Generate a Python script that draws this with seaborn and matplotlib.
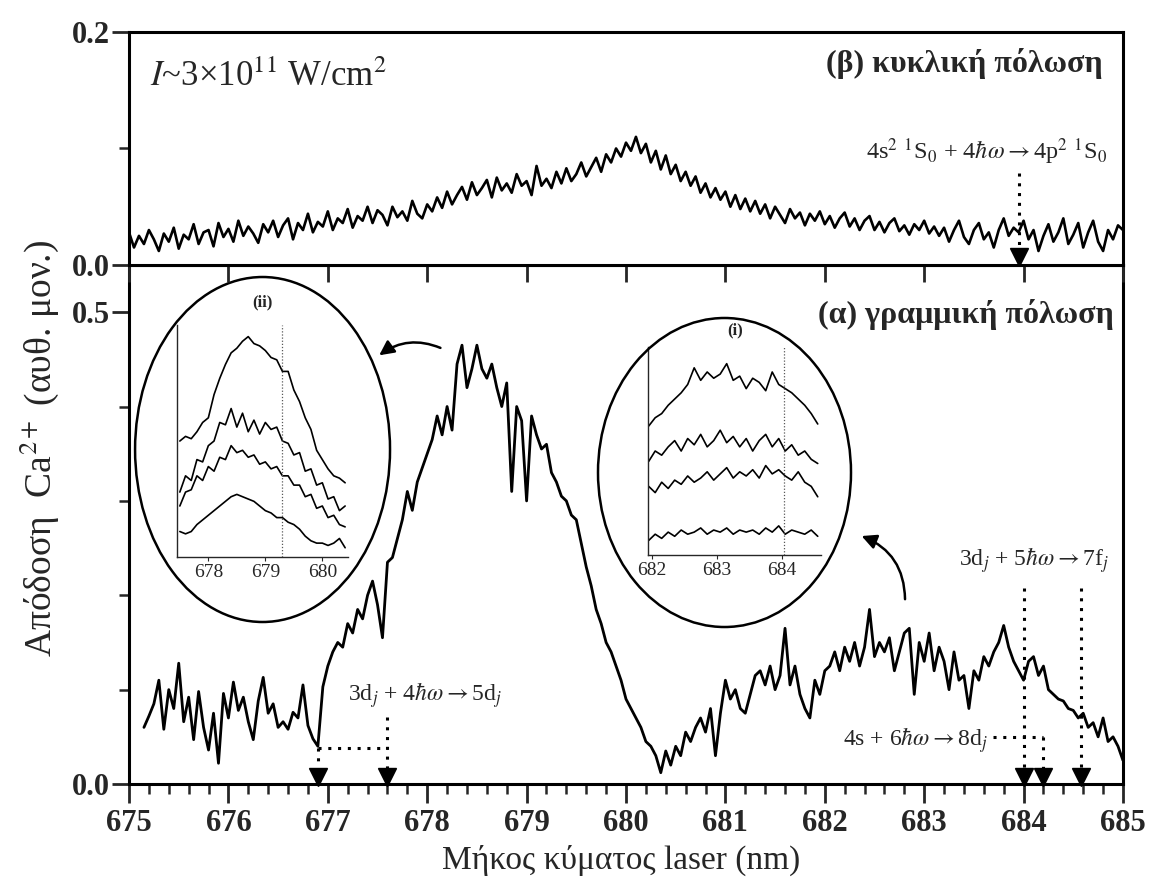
import numpy as np
import pandas as pd
import matplotlib
matplotlib.use("Agg")
import matplotlib.pyplot as plt
import seaborn as sns
from matplotlib.patches import Ellipse, FancyArrowPatch
from matplotlib.ticker import MultipleLocator, FixedLocator

# ---------------- data ----------------
# (beta) circular polarisation, scan 675.00 -> 685.00 nm, step 0.05 nm
circ_start, circ_step = 675.00, 0.05
circ_yield = [
    0.028, 0.015, 0.025, 0.018, 0.030, 0.022, 0.012, 0.027, 0.020, 0.032,
    0.014, 0.026, 0.022, 0.035, 0.018, 0.028, 0.030, 0.016, 0.036, 0.024,
    0.031, 0.020, 0.038, 0.025, 0.033, 0.027, 0.019, 0.035, 0.028, 0.038,
    0.024, 0.034, 0.040, 0.022, 0.036, 0.030, 0.044, 0.028, 0.037, 0.033,
    0.046, 0.030, 0.040, 0.036, 0.048, 0.032, 0.042, 0.038, 0.050, 0.036,
    0.047, 0.043, 0.034, 0.050, 0.041, 0.046, 0.038, 0.055, 0.044, 0.040,
    0.052, 0.046, 0.058, 0.049, 0.063, 0.052, 0.060, 0.067, 0.056, 0.071,
    0.060, 0.066, 0.073, 0.058, 0.075, 0.064, 0.070, 0.062, 0.078, 0.068,
    0.072, 0.060, 0.085, 0.068, 0.074, 0.066, 0.080, 0.070, 0.083, 0.072,
    0.078, 0.088, 0.076, 0.084, 0.092, 0.080, 0.095, 0.088, 0.100, 0.093,
    0.105, 0.098, 0.110, 0.096, 0.104, 0.088, 0.098, 0.082, 0.094, 0.078,
    0.086, 0.072, 0.080, 0.068, 0.076, 0.062, 0.070, 0.058, 0.066, 0.056,
    0.063, 0.050, 0.060, 0.048, 0.057, 0.046, 0.055, 0.044, 0.052, 0.040,
    0.050, 0.043, 0.036, 0.048, 0.040, 0.045, 0.034, 0.044, 0.038, 0.046,
    0.035, 0.042, 0.032, 0.040, 0.045, 0.033, 0.040, 0.030, 0.038, 0.042,
    0.030, 0.037, 0.028, 0.036, 0.040, 0.029, 0.034, 0.026, 0.035, 0.030,
    0.038, 0.027, 0.033, 0.025, 0.032, 0.020, 0.030, 0.038, 0.024, 0.018,
    0.030, 0.036, 0.022, 0.028, 0.015, 0.030, 0.040, 0.025, 0.032, 0.028,
    0.038, 0.022, 0.030, 0.012, 0.025, 0.035, 0.020, 0.028, 0.040, 0.018,
    0.026, 0.036, 0.015, 0.028, 0.038, 0.020, 0.012, 0.030, 0.022, 0.034,
    0.030,
]

# (alpha) linear polarisation, scan 675.15 -> 685.00 nm, step 0.05 nm
lin_start, lin_step = 675.15, 0.05
lin_yield = [
    0.060, 0.072, 0.085, 0.110, 0.058, 0.100, 0.080, 0.128, 0.066, 0.092,
    0.047, 0.098, 0.060, 0.036, 0.075, 0.022, 0.096, 0.070, 0.108, 0.078,
    0.092, 0.066, 0.047, 0.088, 0.113, 0.075, 0.085, 0.060, 0.066, 0.058,
    0.076, 0.070, 0.105, 0.062, 0.048, 0.040, 0.103, 0.125, 0.140, 0.150,
    0.145, 0.170, 0.160, 0.185, 0.175, 0.200, 0.215, 0.190, 0.155, 0.235,
    0.240, 0.260, 0.280, 0.310, 0.290, 0.320, 0.335, 0.350, 0.365, 0.390,
    0.370, 0.400, 0.375, 0.445, 0.465, 0.420, 0.440, 0.465, 0.440, 0.430,
    0.445, 0.420, 0.400, 0.425, 0.310, 0.400, 0.385, 0.300, 0.390, 0.370,
    0.355, 0.360, 0.330, 0.320, 0.305, 0.300, 0.285, 0.280, 0.255, 0.230,
    0.210, 0.185, 0.170, 0.150, 0.140, 0.125, 0.110, 0.090, 0.080, 0.070,
    0.060, 0.045, 0.040, 0.030, 0.012, 0.035, 0.020, 0.040, 0.030, 0.055,
    0.045, 0.060, 0.070, 0.055, 0.080, 0.030, 0.075, 0.110, 0.090, 0.100,
    0.080, 0.075, 0.095, 0.115, 0.120, 0.105, 0.125, 0.100, 0.115, 0.165,
    0.105, 0.125, 0.095, 0.080, 0.070, 0.110, 0.095, 0.120, 0.125, 0.140,
    0.120, 0.145, 0.130, 0.150, 0.125, 0.145, 0.185, 0.135, 0.150, 0.140,
    0.155, 0.120, 0.140, 0.160, 0.165, 0.095, 0.150, 0.130, 0.160, 0.120,
    0.145, 0.130, 0.100, 0.140, 0.110, 0.115, 0.080, 0.120, 0.110, 0.135,
    0.125, 0.140, 0.150, 0.168, 0.145, 0.130, 0.120, 0.110, 0.130, 0.135,
    0.115, 0.125, 0.100, 0.095, 0.090, 0.088, 0.080, 0.078, 0.070, 0.075,
    0.060, 0.065, 0.050, 0.070, 0.045, 0.050, 0.040, 0.025,
]

# inset (ii): 677.5 -> 680.4 nm, step 0.1 nm (arbitrary units, 4 traces)
ins2_start, ins2_step = 677.5, 0.1
ins2_t1 = [0.50, 0.52, 0.51, 0.54, 0.58, 0.60, 0.70, 0.77, 0.83, 0.88,
           0.90, 0.93, 0.95, 0.92, 0.91, 0.89, 0.86, 0.85, 0.80, 0.80,
           0.72, 0.67, 0.60, 0.55, 0.46, 0.42, 0.38, 0.35, 0.34, 0.32]
ins2_t2 = [0.28, 0.35, 0.33, 0.42, 0.41, 0.48, 0.50, 0.58, 0.57, 0.64,
           0.56, 0.62, 0.54, 0.59, 0.53, 0.58, 0.55, 0.56, 0.50, 0.49,
           0.44, 0.45, 0.37, 0.38, 0.31, 0.32, 0.25, 0.26, 0.20, 0.22]
ins2_t3 = [0.22, 0.28, 0.29, 0.35, 0.33, 0.39, 0.37, 0.43, 0.42, 0.48,
           0.45, 0.46, 0.43, 0.44, 0.40, 0.41, 0.38, 0.39, 0.35, 0.35,
           0.31, 0.31, 0.26, 0.27, 0.21, 0.22, 0.17, 0.18, 0.14, 0.13]
ins2_t4 = [0.11, 0.10, 0.11, 0.14, 0.16, 0.18, 0.20, 0.22, 0.24, 0.26,
           0.27, 0.26, 0.25, 0.24, 0.22, 0.20, 0.19, 0.17, 0.17, 0.15,
           0.14, 0.12, 0.09, 0.07, 0.06, 0.06, 0.05, 0.06, 0.08, 0.04]
ins2_mark = 679.3

# inset (i): 681.95 -> 684.55 nm, step 0.1 nm
ins1_start, ins1_step = 681.95, 0.1
ins1_t1 = [0.62, 0.66, 0.68, 0.72, 0.75, 0.78, 0.82, 0.90, 0.84, 0.88,
           0.85, 0.87, 0.92, 0.84, 0.86, 0.80, 0.85, 0.83, 0.79, 0.88,
           0.82, 0.80, 0.78, 0.75, 0.72, 0.68, 0.63]
ins1_t2 = [0.45, 0.50, 0.48, 0.52, 0.55, 0.50, 0.56, 0.53, 0.58, 0.52,
           0.55, 0.60, 0.54, 0.57, 0.52, 0.56, 0.50, 0.55, 0.58, 0.52,
           0.56, 0.50, 0.53, 0.48, 0.50, 0.46, 0.44]
ins1_t3 = [0.33, 0.30, 0.35, 0.32, 0.36, 0.34, 0.38, 0.35, 0.37, 0.40,
           0.36, 0.39, 0.42, 0.37, 0.40, 0.38, 0.41, 0.37, 0.43, 0.39,
           0.41, 0.38, 0.36, 0.40, 0.35, 0.33, 0.28]
ins1_t4 = [0.07, 0.10, 0.08, 0.11, 0.09, 0.12, 0.10, 0.11, 0.13, 0.10,
           0.12, 0.11, 0.13, 0.10, 0.12, 0.11, 0.12, 0.10, 0.13, 0.11,
           0.14, 0.10, 0.12, 0.11, 0.10, 0.12, 0.09]
ins1_mark = 684.03

# marked transitions (nm)
trans_top = [683.95]                                # 4s2 1S0 + 4hw -> 4p2 1S0
trans_5d = [676.9, 677.6]                           # 3dj + 4hw -> 5dj
trans_7f = [684.0, 684.58]                          # 3dj + 5hw -> 7fj
trans_8d = [684.2]                                  # 4s + 6hw -> 8dj

x_ticks = [675, 676, 677, 678, 679, 680, 681, 682, 683, 684, 685]

# ---------------- style ----------------
sns.set_theme(style="ticks")
plt.rcParams["font.family"] = ["Liberation Serif", "DejaVu Serif"]
plt.rcParams["mathtext.fontset"] = "stix"
plt.rcParams["axes.linewidth"] = 2.2

def grid(start, step, vals):
    return np.round(start + step * np.arange(len(vals)), 3)

df_circ = pd.DataFrame({"wl": grid(circ_start, circ_step, circ_yield), "y": circ_yield})
df_lin = pd.DataFrame({"wl": grid(lin_start, lin_step, lin_yield), "y": lin_yield})

fig = plt.figure(figsize=(11.5, 8.88), dpi=100)
L, W = 0.1122, 0.8643
ax_top = fig.add_axes([L, 0.7016, W, 0.2624])
ax_bot = fig.add_axes([L, 0.1171, W, 0.5845])
ax_top.set_zorder(3)

sns.lineplot(data=df_circ, x="wl", y="y", ax=ax_top, color="black", lw=1.9, estimator=None)
sns.lineplot(data=df_lin, x="wl", y="y", ax=ax_bot, color="black", lw=2.0, estimator=None)

for ax in (ax_top, ax_bot):
    ax.set_xlim(675, 685)
    ax.set_xlabel("")
    ax.set_ylabel("")
    for s in ax.spines.values():
        s.set_visible(True)
        s.set_linewidth(2.2)
        s.set_color("black")

# top panel
ax_top.set_ylim(0, 0.2)
ax_top.yaxis.set_major_locator(FixedLocator([0.0, 0.2]))
ax_top.set_yticklabels(["0.0", "0.2"], fontweight="bold")
ax_top.yaxis.set_minor_locator(FixedLocator([0.1]))
ax_top.xaxis.set_major_locator(FixedLocator(x_ticks))
ax_top.tick_params(axis="x", which="both", bottom=True, top=False, labelbottom=False,
                   direction="out", length=12, width=2)
ax_top.tick_params(axis="x", which="minor", bottom=False)
ax_top.tick_params(axis="y", which="major", length=12, width=2, labelsize=22, pad=2)
ax_top.tick_params(axis="y", which="minor", length=7, width=1.8)

# bottom panel
ax_bot.set_ylim(0, 0.55)
ax_bot.yaxis.set_major_locator(FixedLocator([0.0, 0.5]))
ax_bot.set_yticklabels(["0.0", "0.5"], fontweight="bold")
ax_bot.yaxis.set_minor_locator(FixedLocator([0.1, 0.2, 0.3, 0.4]))
ax_bot.xaxis.set_major_locator(FixedLocator(x_ticks))
ax_bot.set_xticklabels([str(t) for t in x_ticks], fontweight="bold")
ax_bot.xaxis.set_minor_locator(MultipleLocator(0.2))
ax_bot.tick_params(axis="x", which="major", direction="out", length=14, width=2,
                   labelsize=22, pad=4, top=False)
ax_bot.tick_params(axis="x", which="minor", direction="out", length=7, width=1.8, top=False)
ax_bot.tick_params(axis="y", which="major", length=12, width=2, labelsize=22, pad=2)
ax_bot.tick_params(axis="y", which="minor", length=7, width=1.8)

# labels
fig.text(0.54, 0.031, "Μήκος κύματος laser (nm)", ha="center", va="center", fontsize=24)
fig.text(0.034, 0.495, "Απόδοση  Ca$^{2+}$ (αυθ. μον.)", ha="center", va="center",
         rotation=90, fontsize=27)

ax_top.text(675.21, 0.161, r"$I$~3×10$^{11}$ W/cm$^{2}$", fontsize=25, ha="left", va="center")
ax_top.text(684.8, 0.173, "(β) κυκλική πόλωση", fontsize=23, fontweight="bold",
            ha="right", va="center")
ax_top.text(684.84, 0.097, r"4s$^{2}$ $^{1}$S$_{0}$ + 4$\hbar\omega$$\rightarrow$4p$^{2}$ $^{1}$S$_{0}$",
            fontsize=17.5, ha="right", va="center")
ax_bot.text(684.91, 0.498, "(α) γραμμική πόλωση", fontsize=23, fontweight="bold",
            ha="right", va="center")
ax_bot.text(677.2, 0.094, r"3d$_{j}$ + 4$\hbar\omega$$\rightarrow$5d$_{j}$",
            fontsize=17, ha="left", va="center")
ax_bot.text(684.86, 0.237, r"3d$_{j}$ + 5$\hbar\omega$$\rightarrow$7f$_{j}$",
            fontsize=17, ha="right", va="center")
ax_bot.text(683.64, 0.047, r"4s + 6$\hbar\omega$$\rightarrow$8d$_{j}$",
            fontsize=17, ha="right", va="center")

dot = dict(color="black", lw=2.2, ls=(0, (1, 2.2)))
head = dict(marker="v", ms=13, color="black", clip_on=False, ls="none")

# top transition arrow
for t in trans_top:
    ax_top.plot([t, t], [0.079, 0.012], **dot)
    ax_top.plot([t], [0.0065], **head)

# 5d arrows with connecting bracket
ax_bot.plot([trans_5d[1], trans_5d[1]], [0.071, 0.014], **dot)
ax_bot.plot([trans_5d[0], trans_5d[1]], [0.038, 0.038], **dot)
ax_bot.plot([trans_5d[0], trans_5d[0]], [0.038, 0.014], **dot)
ax_bot.plot(trans_5d, [0.0072] * len(trans_5d), **head)

# 7f arrows
for t in trans_7f:
    ax_bot.plot([t, t], [0.208, 0.014], **dot)
ax_bot.plot(trans_7f, [0.0072] * len(trans_7f), **head)

# 8d arrow
for t in trans_8d:
    ax_bot.plot([683.69, t], [0.05, 0.05], **dot)
    ax_bot.plot([t, t], [0.05, 0.014], **dot)
ax_bot.plot(trans_8d, [0.0072] * len(trans_8d), **head)

# ---------------- insets ----------------
def inset(rect, start, step, traces, xlim, ticks, mark, title, tpos):
    ia = fig.add_axes(rect)
    ia.patch.set_visible(False)
    rows = []
    for k, tr in enumerate(traces):
        for xv, yv in zip(grid(start, step, tr), tr):
            rows.append((xv, yv, k))
    d = pd.DataFrame(rows, columns=["wl", "y", "trace"])
    sns.lineplot(data=d, x="wl", y="y", hue="trace", palette=["black"] * len(traces),
                 ax=ia, lw=1.2, legend=False, estimator=None)
    ia.axvline(mark, color="0.35", lw=0.9, ls=(0, (1, 1.5)))
    ia.set_xlim(*xlim)
    ia.set_ylim(0, 1)
    ia.set_xlabel("")
    ia.set_ylabel("")
    ia.set_yticks([])
    ia.set_xticks(ticks)
    ia.set_xticklabels([str(t) for t in ticks])
    ia.tick_params(axis="x", labelsize=14, length=3, width=0.8, pad=2)
    for s in ("top", "right"):
        ia.spines[s].set_visible(False)
    for s in ("left", "bottom"):
        ia.spines[s].set_linewidth(1.0)
    fig.text(tpos[0], tpos[1], title, fontsize=12, fontweight="bold", ha="center", va="center")
    return ia

inset([0.1539, 0.3727, 0.1487, 0.2613], ins2_start, ins2_step,
      [ins2_t1, ins2_t2, ins2_t3, ins2_t4], (677.45, 680.45), [678, 679, 680],
      ins2_mark, "(ii)", (262 / 1150, 1 - 302 / 888))
inset([0.5635, 0.375, 0.1504, 0.2342], ins1_start, ins1_step,
      [ins1_t1, ins1_t2, ins1_t3, ins1_t4], (681.94, 684.6), [682, 683, 684],
      ins1_mark, "(i)", (735 / 1150, 1 - 330 / 888))

# ellipses
fig.add_artist(Ellipse((0.2283, 0.4938), 0.2217, 0.3885, transform=fig.transFigure,
                       facecolor="none", edgecolor="black", lw=1.8))
fig.add_artist(Ellipse((0.630, 0.4679), 0.220, 0.348, transform=fig.transFigure,
                       facecolor="none", edgecolor="black", lw=1.8))

# curved arrows
fig.add_artist(FancyArrowPatch((0.3852, 0.6070), (0.3278, 0.5980), transform=fig.transFigure,
                               connectionstyle="arc3,rad=0.3", arrowstyle="-|>",
                               mutation_scale=22, lw=1.8, color="black"))
fig.add_artist(FancyArrowPatch((0.787, 0.3221), (0.747, 0.3975), transform=fig.transFigure,
                               connectionstyle="arc3,rad=0.35", arrowstyle="-|>",
                               mutation_scale=22, lw=1.8, color="black"))

fig.savefig("out.png", dpi=100, facecolor="white")
